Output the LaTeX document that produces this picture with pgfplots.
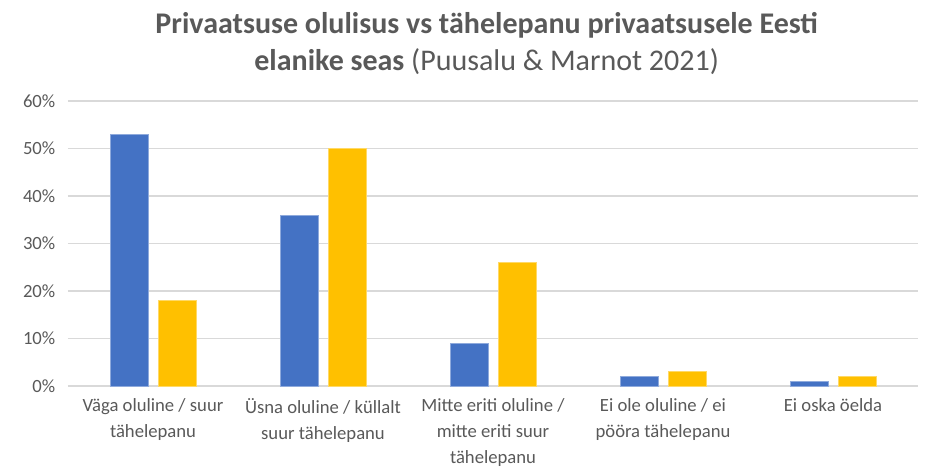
\documentclass[border=0pt]{standalone}
\usepackage{pgfplots}
\pgfplotsset{compat=1.18}
\usepackage{fontspec}
\setmainfont{Carlito}
\definecolor{barblue}{HTML}{4472C4}
\definecolor{baryellow}{HTML}{FFC000}
\definecolor{txtgray}{HTML}{595959}
\definecolor{gridgray}{HTML}{D9D9D9}

\begin{document}
\begin{tikzpicture}
\begin{axis}[
    scale only axis,
    width=637.5pt, height=213.75pt,
    ybar=7.5pt,
    bar width=28.5pt,
    xmin=-0.5, xmax=4.5,
    ymin=0, ymax=60,
    ytick={0,10,...,60},
    yticklabel={\pgfmathprintnumber{\tick}\%},
    /pgf/number format/assume math mode=true,
    xtick={0,1,2,3,4},
    xticklabels={{Väga oluline / suur\\[2.5pt]tähelepanu},
                 {Üsna oluline / küllalt\\[2.5pt]suur tähelepanu},
                 {Mitte eriti oluline /\\[2.5pt]mitte eriti suur\\[2.5pt]tähelepanu},
                 {Ei ole oluline / ei\\[2.5pt]pööra tähelepanu},
                 {Ei oska öelda}},
    x tick label style={align=center, font={\fontsize{14}{17}\selectfont}, text=txtgray, yshift=-6pt},
    y tick label style={font=\fontsize{14}{17}\selectfont, text=txtgray, xshift=-6pt},
    major tick length=0pt,
    axis line style={draw=none},
    ymajorgrids,
    major grid style={gridgray, line width=1pt},
]
\addplot[fill=barblue, draw=barblue!60!white, line width=0.4pt] coordinates {(0,53) (1,36) (2,9) (3,2) (4,1)};
\addplot[fill=baryellow, draw=baryellow!60!white, line width=0.4pt] coordinates {(0,18) (1,50) (2,26) (3,3) (4,2)};
\end{axis}
\node[text=txtgray, font={\fontsize{22.5}{28}\selectfont}, align=center] at (314pt,257pt)
  {\textbf{Privaatsuse olulisus vs tähelepanu privaatsusele Eesti}\\
   \textbf{elanike seas} (Puusalu \& Marnot 2021)};
\path[use as bounding box] (-51pt,-64.5pt) rectangle (646.5pt,289.5pt);
\end{tikzpicture}
\end{document}
